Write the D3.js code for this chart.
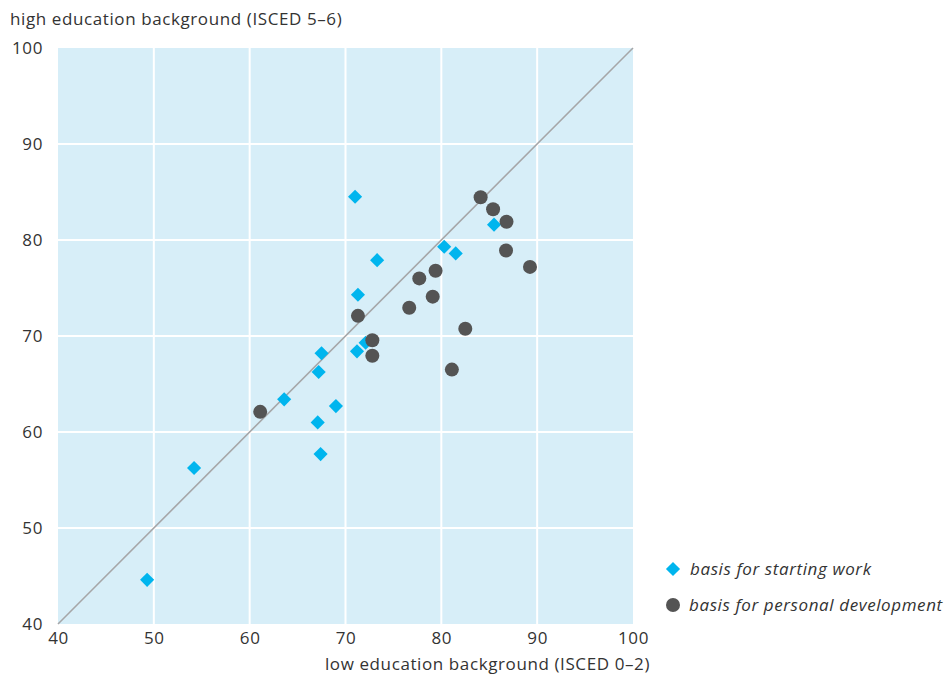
<!DOCTYPE html>
<html lang="en">
  <head>
    <meta charset="UTF-8" />
    <title>Low vs high education background</title>
    <script src="https://d3js.org/d3.v7.min.js"></script>
    <style>
      body { margin: 0; background: #fff; }
      text { font-family: "Open Sans", sans-serif; fill: #333; letter-spacing: 0.6px; }
    </style>
  </head>
  <body>
    <svg id="chart" width="952" height="676"></svg>
    <script>
      // low education (x), high education (y)
      const startingWorkX = [49.3, 54.2, 63.6, 67.1, 67.4, 69.0, 67.2, 67.5, 71.2, 72.1, 71.3, 73.3, 71.0, 80.3, 81.5, 85.5];
      const startingWorkY = [44.6, 56.25, 63.4, 61.0, 57.7, 62.7, 66.25, 68.2, 68.4, 69.3, 74.3, 77.9, 84.5, 79.3, 78.6, 81.6];
      const personalDevX = [61.1, 71.3, 72.8, 72.8, 76.65, 77.7, 79.4, 79.1, 82.5, 81.1, 84.1, 85.4, 86.8, 86.75, 89.25];
      const personalDevY = [62.1, 72.1, 69.55, 67.95, 72.95, 76.0, 76.8, 74.1, 70.75, 66.5, 84.45, 83.2, 81.9, 78.9, 77.2];
      const ticks = [40, 50, 60, 70, 80, 90, 100];

      const svg = d3.select("#chart");
      const margin = { top: 48, left: 58 };
      const w = 575, h = 576;
      const fontSize = 17;
      const font = "Open Sans";

      const x = d3.scaleLinear().domain([40, 100]).range([0, w]);
      const y = d3.scaleLinear().domain([40, 100]).range([h, 0]);

      const g = svg.append("g").attr("transform", `translate(${margin.left},${margin.top})`);

      g.append("rect").attr("width", w).attr("height", h).attr("fill", "#d7eef8");

      // grid
      g.selectAll(".vgrid").data(ticks.slice(1, -1)).enter().append("line")
        .attr("x1", d => x(d)).attr("x2", d => x(d))
        .attr("y1", 0).attr("y2", h)
        .attr("stroke", "#fff").attr("stroke-width", 2);
      g.selectAll(".hgrid").data(ticks.slice(1, -1)).enter().append("line")
        .attr("y1", d => y(d)).attr("y2", d => y(d))
        .attr("x1", 0).attr("x2", w)
        .attr("stroke", "#fff").attr("stroke-width", 2);

      // diagonal
      g.append("line")
        .attr("x1", x(40)).attr("y1", y(40))
        .attr("x2", x(100)).attr("y2", y(100))
        .attr("stroke", "#a6a6a8").attr("stroke-width", 1.6);

      // axes (labels only)
      const xAxis = g.append("g").attr("transform", `translate(0,${h})`)
        .call(d3.axisBottom(x).tickValues(ticks).tickSize(0).tickPadding(8));
      xAxis.select(".domain").remove();
      xAxis.selectAll("text").attr("font-size", fontSize).style("font-family", font).attr("fill", "#333");

      const yAxis = g.append("g")
        .call(d3.axisLeft(y).tickValues(ticks).tickSize(0).tickPadding(15));
      yAxis.select(".domain").remove();
      yAxis.selectAll("text").attr("font-size", fontSize).style("font-family", font).attr("fill", "#333");

      const personal = personalDevX.map((v, i) => ({ x: v, y: personalDevY[i] }));
      const starting = startingWorkX.map((v, i) => ({ x: v, y: startingWorkY[i] }));

      const diamond = d3.symbol().type(d3.symbolSquare).size(100);

      g.selectAll(".dia").data(starting).enter().append("path")
        .attr("d", diamond)
        .attr("transform", d => `translate(${x(d.x)},${y(d.y)}) rotate(45)`)
        .attr("fill", "#00b5ee");

      g.selectAll(".dot").data(personal).enter().append("circle")
        .attr("cx", d => x(d.x)).attr("cy", d => y(d.y)).attr("r", 7)
        .attr("fill", "#545454");

      // axis titles
      svg.append("text").attr("x", 10).attr("y", 25).attr("font-size", fontSize)
        .text("high education background (ISCED 5–6)");
      svg.append("text").attr("x", 650).attr("y", 670).attr("font-size", fontSize)
        .attr("text-anchor", "end")
        .text("low education background (ISCED 0–2)");

      // legend
      const legend = svg.append("g").attr("transform", "translate(673,569)");
      legend.append("path").attr("d", diamond).attr("transform", "rotate(45)").attr("fill", "#00b5ee");
      legend.append("text").attr("x", 17).attr("y", 6).attr("font-size", fontSize).attr("font-style", "italic")
        .text("basis for starting work");
      legend.append("circle").attr("cx", 0).attr("cy", 36).attr("r", 7).attr("fill", "#545454");
      legend.append("text").attr("x", 16).attr("y", 42).attr("font-size", fontSize).attr("font-style", "italic")
        .text("basis for personal development");
    </script>
  </body>
</html>
